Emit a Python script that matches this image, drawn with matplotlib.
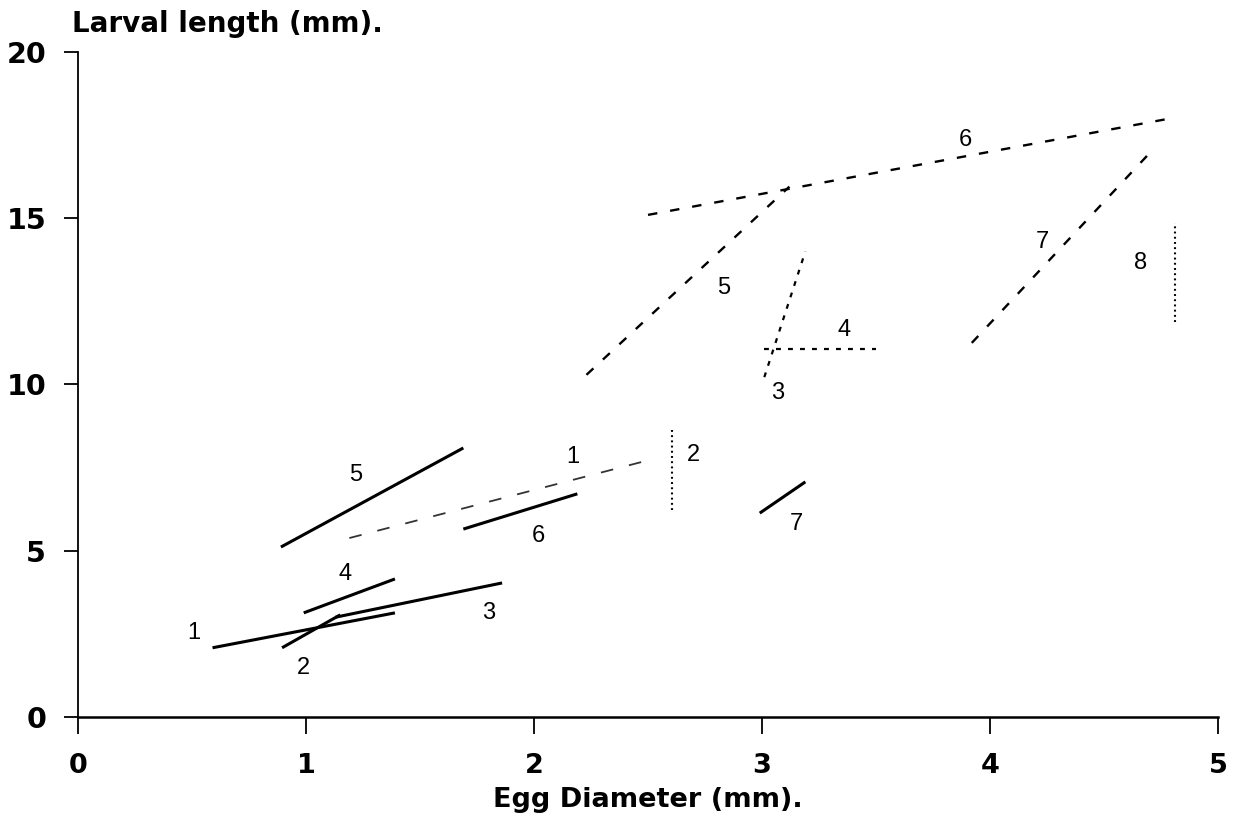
import matplotlib
matplotlib.use('Agg')
import matplotlib.pyplot as plt

# solid lines (species 1-7)
solid_x = [[0.59, 1.39], [0.895, 1.15], [1.13, 1.86], [0.99, 1.39],
           [0.89, 1.69], [1.69, 2.19], [2.99, 3.19]]
solid_y = [[2.08, 3.13], [2.08, 3.07], [3.0, 4.03], [3.13, 4.15],
           [5.11, 8.09], [5.65, 6.71], [6.13, 7.07]]
solid_lab = ['1', '2', '3', '4', '5', '6', '7']
solid_lab_x = [0.51, 0.99, 1.80, 1.17, 1.22, 2.02, 3.15]
solid_lab_y = [2.53, 1.47, 3.13, 4.30, 7.28, 5.44, 5.80]

# broken lines (dashed / dotted), species 1-8
brk_x = [[1.19, 2.49], [2.605, 2.605], [3.01, 3.19], [3.01, 3.50],
         [2.23, 3.12], [2.50, 4.79], [3.92, 4.70], [4.81, 4.81]]
brk_y = [[5.38, 7.70], [6.23, 8.72], [10.22, 14.0], [11.07, 11.07],
         [10.29, 15.95], [15.1, 18.0], [11.25, 16.96], [11.88, 14.86]]
brk_kind = ['longdash', 'dot', 'shortdash', 'shortdash',
            'dash', 'dash', 'dash', 'dot']
brk_lab = ['1', '2', '3', '4', '5', '6', '7', '8']
brk_lab_x = [2.17, 2.70, 3.07, 3.36, 2.83, 3.89, 4.23, 4.66]
brk_lab_y = [7.82, 7.88, 9.74, 11.64, 12.90, 17.35, 14.29, 13.65]

styles = {
    'longdash': dict(lw=1.3, ls=(0, (7, 9)), color='#333333'),
    'dash': dict(lw=1.7, ls=(0, (4, 5.5)), color='black'),
    'shortdash': dict(lw=1.6, ls=(0, (2.2, 3.2)), color='black'),
    'dot': dict(lw=1.5, ls=(0, (0.9, 1.6)), color='black'),
}

fig = plt.figure(figsize=(12.48, 8.25), dpi=100)
ax = fig.add_axes([0.0625, 0.131, 0.9135, 0.806])

for xs, ys in zip(solid_x, solid_y):
    ax.plot(xs, ys, color='black', lw=2.2, solid_capstyle='butt')
for xs, ys, k in zip(brk_x, brk_y, brk_kind):
    ax.plot(xs, ys, **styles[k])

lab_font = dict(fontsize=17, family='Liberation Sans', ha='center', va='center')
for t, x, y in zip(solid_lab, solid_lab_x, solid_lab_y):
    ax.text(x, y, t, **lab_font)
for t, x, y in zip(brk_lab, brk_lab_x, brk_lab_y):
    ax.text(x, y, t, **lab_font)

ax.set_xlim(0, 5)
ax.set_ylim(0, 20)
ax.set_xticks([0, 1, 2, 3, 4, 5])
ax.set_yticks([0, 5, 10, 15, 20])
ax.spines['top'].set_visible(False)
ax.spines['right'].set_visible(False)
ax.spines['left'].set_linewidth(1.3)
ax.spines['bottom'].set_linewidth(1.8)
ax.tick_params(axis='x', length=12, width=1.3, pad=14)
ax.tick_params(axis='y', length=10, width=1.3, pad=13)
for lbl in ax.get_xticklabels():
    lbl.set_fontfamily('DejaVu Sans')
    lbl.set_fontweight('bold')
    lbl.set_fontsize(19.5)
for lbl in ax.get_yticklabels():
    lbl.set_fontfamily('DejaVu Sans')
    lbl.set_fontweight('bold')
    lbl.set_fontsize(20.5)

ax.set_xlabel('Egg Diameter (mm).', fontsize=19.5, fontweight='bold',
              family='DejaVu Sans', labelpad=6)
fig.text(72 / 1248, 1 - 24 / 825, 'Larval length (mm).', fontsize=20,
         fontweight='bold', family='DejaVu Sans', ha='left', va='center')

fig.savefig('out.png', dpi=100, facecolor='white')
